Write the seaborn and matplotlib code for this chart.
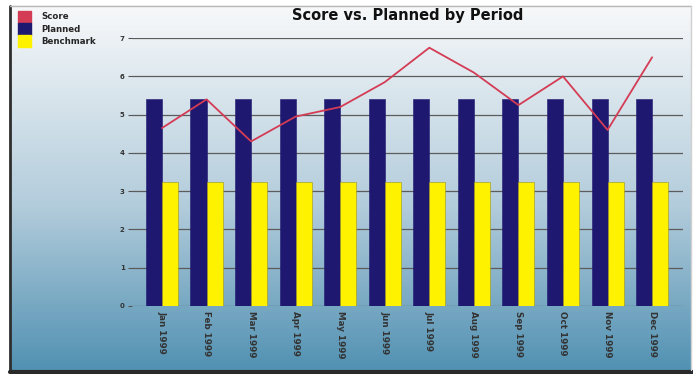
import numpy as np
import pandas as pd
import matplotlib
matplotlib.use("Agg")
import matplotlib.pyplot as plt
import matplotlib.patches as mpatches
import seaborn as sns

months = ["Jan 1999", "Feb 1999", "Mar 1999", "Apr 1999", "May 1999", "Jun 1999",
          "Jul 1999", "Aug 1999", "Sep 1999", "Oct 1999", "Nov 1999", "Dec 1999"]
score = [4.65, 5.4, 4.3, 4.95, 5.2, 5.85, 6.75, 6.1, 5.25, 6.0, 4.6, 6.5]
planned = [5.4] * 12
benchmark = [3.25] * 12
yticks = [0, 1, 2, 3, 4, 5, 6, 7]

C_SCORE = "#d43c55"
C_PLAN = "#1f1870"
C_BENCH = "#fff200"

sns.set_theme(style="white")
plt.rcParams["font.family"] = ["DejaVu Sans"]

fig = plt.figure(figsize=(6.93, 3.74), dpi=100)

# gradient panel behind the chart
bg = fig.add_axes([0, 0, 1, 1], zorder=-10)
top = np.array([0.97, 0.975, 0.98])
mid = np.array([0.70, 0.80, 0.86])
bot = np.array([0.32, 0.57, 0.70])
t = np.linspace(0, 1, 256)[:, None]
grad = np.where(t < 0.55, top * (1 - t / 0.55) + mid * (t / 0.55),
                mid * (1 - (t - 0.55) / 0.45) + bot * ((t - 0.55) / 0.45))
bg.set_xlim(0, 1)
bg.set_ylim(0, 1)
x0, x1, y0, y1 = 0.014, 0.997, 0.01, 0.985
bg.imshow(grad[:, None, :].repeat(2, axis=1), aspect="auto",
          extent=[x0, x1, y0, y1])
bg.plot([x0, x0], [y0, y1], color="#2e2e2e", lw=2.0)
bg.plot([x0, 1.0], [0.006, 0.006], color="#2a2a2a", lw=3)
bg.plot([x0, x1], [y1, y1], color="#b8b8b8", lw=1)
bg.plot([x1, x1], [y0, y1], color="#d0d0d0", lw=1)
bg.set_axis_off()

ax = fig.add_axes([0.19, 0.182, 0.796, 0.716])
ax.patch.set_alpha(0)

df = pd.DataFrame({
    "month": months * 2,
    "value": planned + benchmark,
    "series": ["Planned"] * 12 + ["Benchmark"] * 12,
})

for y in yticks:
    ax.axhline(y, color="#5c5c5c", lw=0.9, zorder=0)

sns.barplot(data=df, x="month", y="value", hue="series", order=months,
            hue_order=["Planned", "Benchmark"],
            palette={"Planned": C_PLAN, "Benchmark": C_BENCH},
            saturation=1, width=0.72, gap=0, dodge=True, ax=ax,
            legend=False, zorder=2, edgecolor="#9a9020", linewidth=0.4)
for p in ax.patches[:12]:
    p.set_edgecolor(C_PLAN)

ax.plot(months, score, color=C_SCORE, lw=1.3, zorder=3)

ax.set_xlim(-0.68, 11.7)
ax.set_ylim(0, 7)
ax.set_yticks(yticks)
ax.set_yticklabels([str(v) for v in yticks], fontsize=5, color="#333333",
                   fontweight="bold")
ax.tick_params(axis="y", length=3, width=0.8, color="#555555", pad=2, left=True)
ax.tick_params(axis="x", length=0, pad=4)
ax.set_xticks(range(len(months)))
ax.set_xticklabels(months, rotation=270, fontsize=6.3, color="#333333",
                   fontweight="bold")
ax.set_xlabel("")
ax.set_ylabel("")
for s in ax.spines.values():
    s.set_visible(False)

ax.set_title("Score vs. Planned by Period", fontsize=10.5, fontweight="bold",
             color="#111111", pad=13)

handles = [mpatches.Patch(color=C_SCORE, label="Score"),
           mpatches.Patch(color=C_PLAN, label="Planned"),
           mpatches.Patch(color=C_BENCH, label="Benchmark")]
fig.legend(handles=handles, loc="upper left", bbox_to_anchor=(0.016, 0.99),
           frameon=False, handlelength=1.5, handleheight=1.8,
           labelspacing=0.0, handletextpad=1.2, borderpad=0.3,
           prop={"size": 6.2, "weight": "bold"})

fig.savefig("out.png", dpi=100)
